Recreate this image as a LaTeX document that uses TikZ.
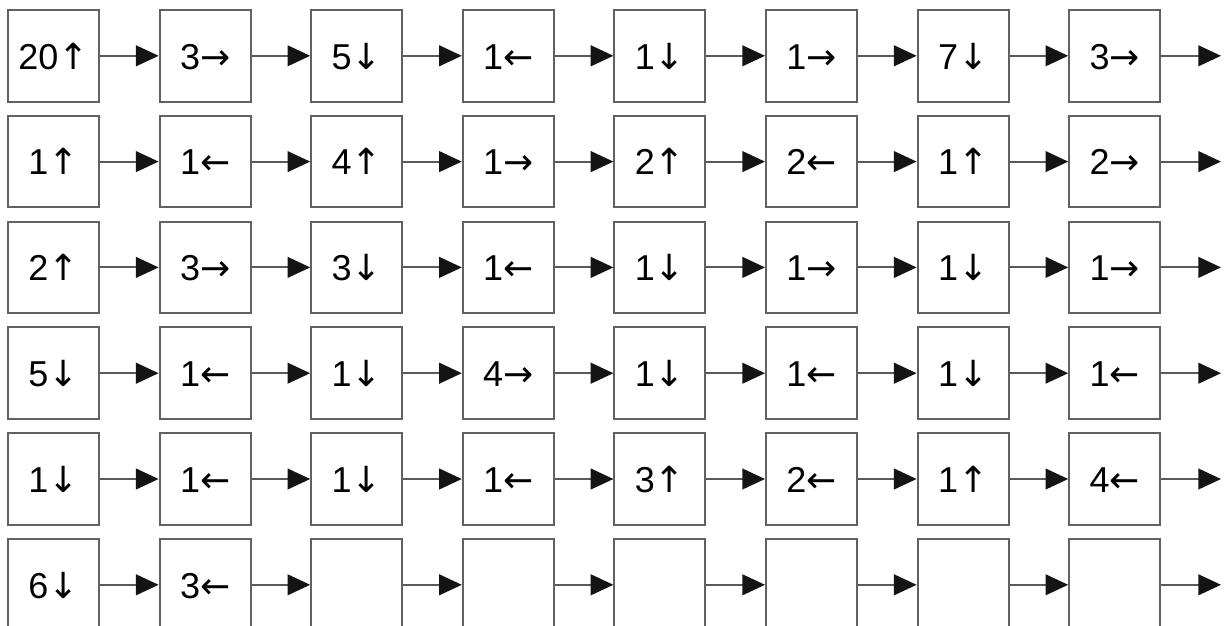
\documentclass[tikz,border=0pt]{standalone}
\usepackage{fontspec}
\setmainfont{Liberation Sans}
\newfontfamily\arrfont{DejaVu Sans}
\usetikzlibrary{arrows.meta}
\newcommand{\U}{{\arrfont ↑}}
\newcommand{\D}{{\arrfont ↓}}
\newcommand{\R}{{\arrfont →}}
\newcommand{\Lf}{{\arrfont ←}}
\tikzset{
  cellbox/.style={draw=black!62, line width=1.5pt, minimum width=68.25pt, minimum height=68.6pt, inner sep=0pt, fill=white, text height=20pt, text depth=0pt, font=\fontsize{27}{30}\selectfont},
  conn/.style={draw=black!65, line width=1.5pt, -{Triangle[length=17pt,width=15.5pt,color=black!92]}}
}
\begin{document}
\begin{tikzpicture}[x=0.75pt,y=-0.75pt]
\useasboundingbox (0,0) rectangle (1228,625);
\clip (0,0) rectangle (1228,625);
\fill[white] (0,0) rectangle (1228,625);
\foreach \j/\labs in {0/{20\U,3\R,5\D,1\Lf,1\D,1\R,7\D,3\R},
                      1/{1\U,1\Lf,4\U,1\R,2\U,2\Lf,1\U,2\R},
                      2/{2\U,3\R,3\D,1\Lf,1\D,1\R,1\D,1\R},
                      3/{5\D,1\Lf,1\D,4\R,1\D,1\Lf,1\D,1\Lf},
                      4/{1\D,1\Lf,1\D,1\Lf,3\U,2\Lf,1\U,4\Lf},
                      5/{6\D,3\Lf,{},{},{},{},{},{}}}{
  \foreach \t [count=\i from 0] in \labs {
    \node[cellbox] (b-\j-\i) at ({53.5+151.6*\i},{55.8+105.8*\j}) {\t};
  }
  \coordinate (e-\j) at (1221,{55.8+105.8*\j});
  \foreach \i [evaluate=\i as \n using int(\i+1)] in {0,...,6} {
    \draw[conn] (b-\j-\i.east) -- (b-\j-\n.west);
  }
  \draw[conn] (b-\j-7.east) -- (e-\j);
}
\end{tikzpicture}
\end{document}
